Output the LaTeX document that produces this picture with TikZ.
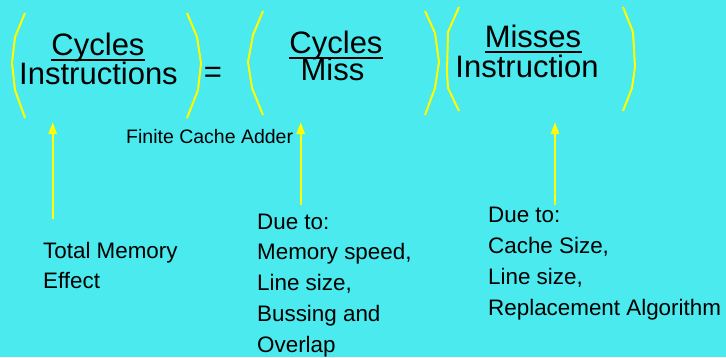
\documentclass[tikz,border=0pt]{standalone}
\usepackage{fontspec}
\setmainfont{Liberation Sans}
\usetikzlibrary{arrows.meta,calc}
\definecolor{bgcyan}{RGB}{74,234,238}
\definecolor{paren}{RGB}{255,255,0}
\begin{document}
\begin{tikzpicture}[x=1pt,y=-1pt,
  big/.style={inner sep=0pt,anchor=base,font=\fontsize{31}{36}\selectfont},
  note/.style={inner sep=0pt,anchor=base west,align=left},
  bracket/.style={draw=paren,line width=2pt,line join=round},
  bar/.style={line width=2.2pt},
  pointer/.style={draw=paren,line width=2.2pt,-{Triangle[length=12pt,width=8pt]}}]
\fill[bgcyan] (0,0) rectangle (726,357);
\useasboundingbox (0,0) rectangle (726,357);

% left fraction
\node[big] (c1) at (98,55) {Cycles};
\node[big] (i1) at (98.5,84) {Instructions};
\draw[bar] ($(c1.base west)+(0,5)$) -- ($(c1.base east)+(0,5)$);
\draw[bracket] (25,13) -- (15,37) -- (12,63) -- (15,90) -- (25,118);
\draw[bracket] (187,13) -- (197,37) -- (201,63) -- (198,90) -- (187,118);

\node[big] (eq) at (213,82) {=};

% middle fraction
\node[big] (c2) at (336,53) {Cycles};
\node[big] (m2) at (332.5,80.5) {Miss};
\draw[bar] ($(c2.base west)+(0,5)$) -- ($(c2.base east)+(0,5)$);
\draw[bracket] (263,11) -- (253,35) -- (248,62) -- (252,88) -- (263,115);
\draw[bracket] (425,11) -- (435,33) -- (439,62) -- (435,88) -- (425,115);

% right fraction
\node[big] (m3) at (533,47) {Misses};
\node[big] (i3) at (527,77) {Instruction};
\draw[bar] ($(m3.base west)+(0,5)$) -- ($(m3.base east)+(1,5)$);
\draw[bracket] (459,7) -- (448,32) -- (447,72) -- (448,88) -- (459,111);
\draw[bracket] (623,7) -- (633,32) -- (635,67) -- (632,88) -- (623,111);

% labels (multi-line nodes sit on the baseline of their last line)
\node[note,font=\fontsize{19.5}{24}\selectfont] (fca) at (126,143) {Finite Cache Adder};
\node[note,font=\fontsize{22.4}{30}\selectfont] (tme) at (43,288) {Total Memory\\Effect};
\node[note,font=\fontsize{22.4}{30.8}\selectfont] (due1) at (257,352.2)
  {Due to:\\Memory speed,\\Line size,\\Bussing and\\Overlap};
\node[note,font=\fontsize{22.4}{31}\selectfont] (due2) at (488,315)
  {Due to:\\Cache Size,\\Line size,\\Replacement Algorithm};

% pointers
\coordinate (t1) at (52.7,122);
\coordinate (b1) at (52.7,219);
\coordinate (t2) at (300.7,122);
\coordinate (b2) at (300.7,205);
\coordinate (t3) at (555,122);
\coordinate (b3) at (555,205);
\draw[pointer] (b1) -- (t1);
\draw[pointer] (b2) -- (t2);
\draw[pointer] (b3) -- (t3);
\end{tikzpicture}
\end{document}
